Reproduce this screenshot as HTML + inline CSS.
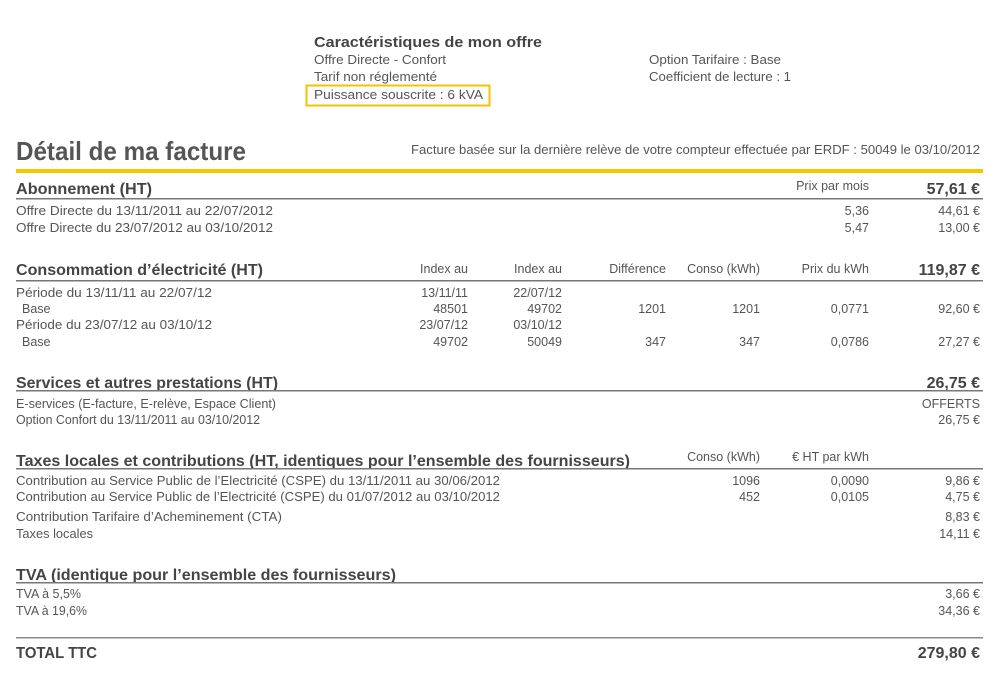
<!DOCTYPE html>
<html><head><meta charset="utf-8"><style>
html,body{margin:0;padding:0;background:#fff;}
svg{display:block;}
text{font-family:"Liberation Sans",sans-serif;fill:#555;font-size:12.5px;}
.h{font-size:16px;fill:#444;font-weight:bold;}
.b{font-weight:bold;}
.e{text-anchor:end;}
</style></head><body>
<svg width="1000" height="700" viewBox="0 0 1000 700">
<text x="314" y="47" class="b" style="font-size:15px;fill:#444" textLength="228" lengthAdjust="spacingAndGlyphs">Caractéristiques de mon offre</text>
<text x="314" y="64" textLength="132" lengthAdjust="spacingAndGlyphs">Offre Directe - Confort</text>
<text x="314" y="81" textLength="123" lengthAdjust="spacingAndGlyphs">Tarif non réglementé</text>
<text x="314" y="99" textLength="169" lengthAdjust="spacingAndGlyphs">Puissance souscrite : 6 kVA</text>
<rect x="306.5" y="85.5" width="183" height="20" fill="none" stroke="#f2c500" stroke-width="2"/>
<text x="649" y="64" textLength="132" lengthAdjust="spacingAndGlyphs">Option Tarifaire : Base</text>
<text x="649" y="81" textLength="142" lengthAdjust="spacingAndGlyphs">Coefficient de lecture : 1</text>

<text x="16" y="160" class="b" style="font-size:26px;fill:#555" textLength="230" lengthAdjust="spacingAndGlyphs">Détail de ma facture</text>
<text x="411" y="154" textLength="569" lengthAdjust="spacingAndGlyphs">Facture basée sur la dernière relève de votre compteur effectuée par ERDF : 50049 le 03/10/2012</text>
<rect x="16" y="169" width="967" height="4" fill="#f5c800"/>

<text x="16" y="194" class="h" textLength="136" lengthAdjust="spacingAndGlyphs">Abonnement (HT)</text>
<text x="869" y="190" class="e">Prix par mois</text>
<text x="980" y="194" class="h e">57,61 €</text>
<rect x="16" y="198" width="967" height="1.5" fill="#777"/>
<text x="16" y="215" textLength="257" lengthAdjust="spacingAndGlyphs">Offre Directe du 13/11/2011 au 22/07/2012</text>
<text x="869" y="215" class="e">5,36</text><text x="980" y="215" class="e">44,61 €</text>
<text x="16" y="232" textLength="257" lengthAdjust="spacingAndGlyphs">Offre Directe du 23/07/2012 au 03/10/2012</text>
<text x="869" y="232" class="e">5,47</text><text x="980" y="232" class="e">13,00 €</text>

<text x="16" y="275" class="h" textLength="247" lengthAdjust="spacingAndGlyphs">Consommation d’électricité (HT)</text>
<text x="468" y="273" class="e">Index au</text><text x="562" y="273" class="e">Index au</text>
<text x="666" y="273" class="e">Différence</text><text x="760" y="273" class="e">Conso (kWh)</text>
<text x="869" y="273" class="e">Prix du kWh</text><text x="980" y="275" class="h e">119,87 €</text>
<rect x="16" y="280" width="967" height="1.5" fill="#777"/>
<text x="16" y="297" textLength="196" lengthAdjust="spacingAndGlyphs">Période du 13/11/11 au 22/07/12</text>
<text x="468" y="297" class="e">13/11/11</text><text x="562" y="297" class="e">22/07/12</text>
<text x="22" y="313">Base</text>
<text x="468" y="313" class="e">48501</text><text x="562" y="313" class="e">49702</text><text x="666" y="313" class="e">1201</text><text x="760" y="313" class="e">1201</text><text x="869" y="313" class="e">0,0771</text><text x="980" y="313" class="e">92,60 €</text>
<text x="16" y="329" textLength="196" lengthAdjust="spacingAndGlyphs">Période du 23/07/12 au 03/10/12</text>
<text x="468" y="329" class="e">23/07/12</text><text x="562" y="329" class="e">03/10/12</text>
<text x="22" y="346">Base</text>
<text x="468" y="346" class="e">49702</text><text x="562" y="346" class="e">50049</text><text x="666" y="346" class="e">347</text><text x="760" y="346" class="e">347</text><text x="869" y="346" class="e">0,0786</text><text x="980" y="346" class="e">27,27 €</text>

<text x="16" y="388" class="h" textLength="262" lengthAdjust="spacingAndGlyphs">Services et autres prestations (HT)</text>
<text x="980" y="388" class="h e">26,75 €</text>
<rect x="16" y="390" width="967" height="1.5" fill="#777"/>
<text x="16" y="408" textLength="260" lengthAdjust="spacingAndGlyphs">E-services (E-facture, E-relève, Espace Client)</text>
<text x="980" y="408" class="e">OFFERTS</text>
<text x="16" y="424" textLength="244" lengthAdjust="spacingAndGlyphs">Option Confort du 13/11/2011 au 03/10/2012</text>
<text x="980" y="424" class="e">26,75 €</text>

<text x="16" y="466" class="h" textLength="614" lengthAdjust="spacingAndGlyphs">Taxes locales et contributions (HT, identiques pour l’ensemble des fournisseurs)</text>
<text x="760" y="461" class="e">Conso (kWh)</text><text x="869" y="461" class="e">€ HT par kWh</text>
<rect x="16" y="468" width="967" height="1.5" fill="#777"/>
<text x="16" y="485" textLength="484" lengthAdjust="spacingAndGlyphs">Contribution au Service Public de l’Electricité (CSPE) du 13/11/2011 au 30/06/2012</text>
<text x="760" y="485" class="e">1096</text><text x="869" y="485" class="e">0,0090</text><text x="980" y="485" class="e">9,86 €</text>
<text x="16" y="501" textLength="484" lengthAdjust="spacingAndGlyphs">Contribution au Service Public de l’Electricité (CSPE) du 01/07/2012 au 03/10/2012</text>
<text x="760" y="501" class="e">452</text><text x="869" y="501" class="e">0,0105</text><text x="980" y="501" class="e">4,75 €</text>
<text x="16" y="521" textLength="266" lengthAdjust="spacingAndGlyphs">Contribution Tarifaire d’Acheminement (CTA)</text>
<text x="980" y="521" class="e">8,83 €</text>
<text x="16" y="538" textLength="77" lengthAdjust="spacingAndGlyphs">Taxes locales</text>
<text x="980" y="538" class="e">14,11 €</text>

<text x="16" y="580" class="h" textLength="380" lengthAdjust="spacingAndGlyphs">TVA (identique pour l’ensemble des fournisseurs)</text>
<rect x="16" y="582" width="967" height="1.5" fill="#777"/>
<text x="16" y="598" textLength="65" lengthAdjust="spacingAndGlyphs">TVA à 5,5%</text>
<text x="980" y="598" class="e">3,66 €</text>
<text x="16" y="615" textLength="71" lengthAdjust="spacingAndGlyphs">TVA à 19,6%</text>
<text x="980" y="615" class="e">34,36 €</text>

<rect x="16" y="637" width="967" height="1.5" fill="#888"/>
<text x="16" y="658" class="h" textLength="81" lengthAdjust="spacingAndGlyphs">TOTAL TTC</text>
<text x="980" y="658" class="h e">279,80 €</text>
</svg>
</body></html>
